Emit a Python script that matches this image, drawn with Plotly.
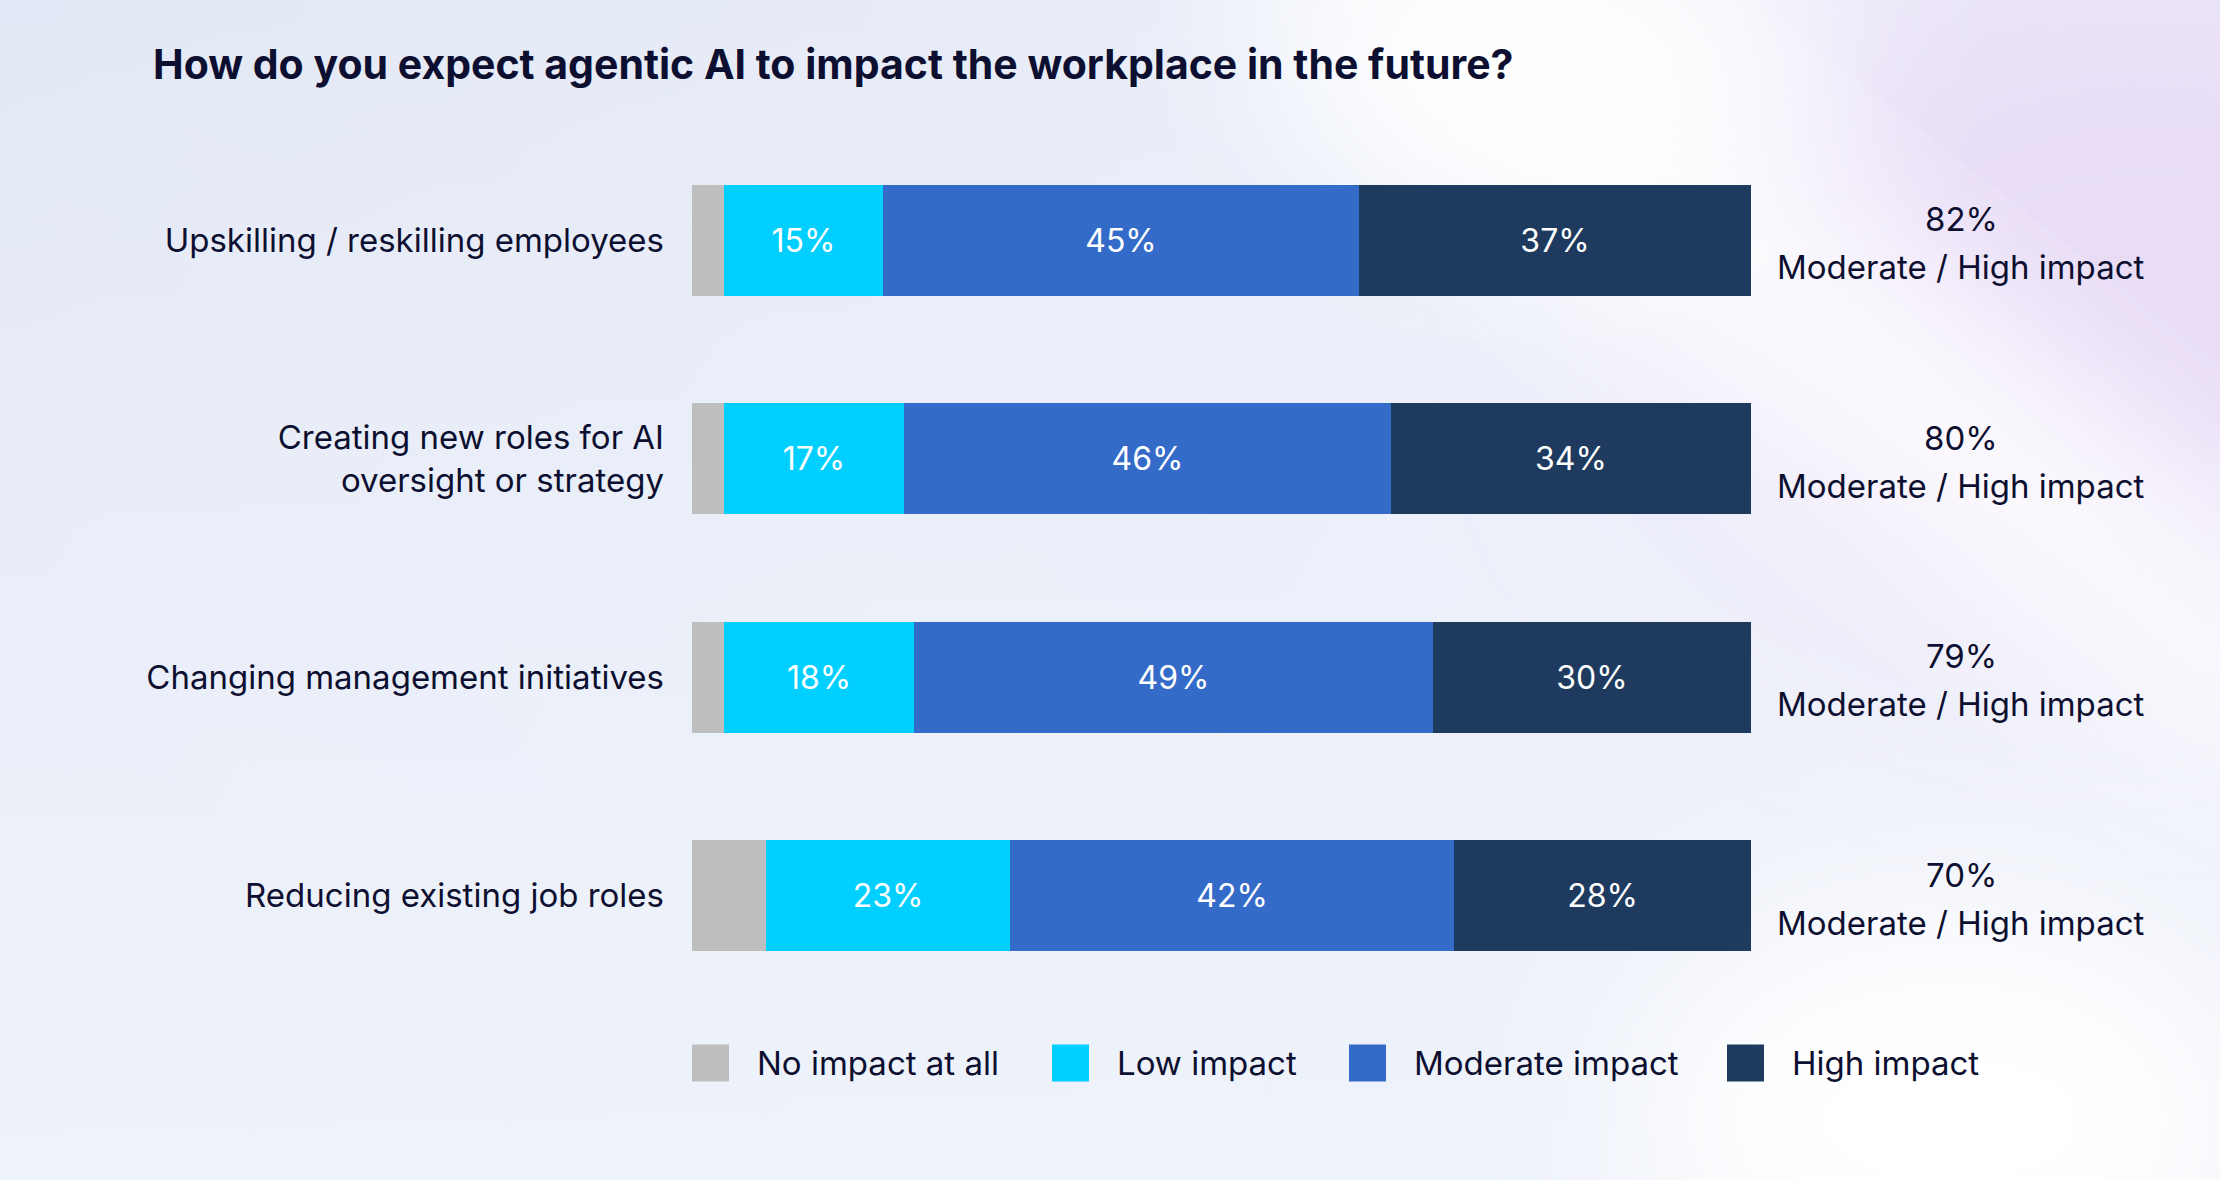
import base64
import plotly.graph_objects as go

# ---------------- data ----------------
categories = [
    "Upskilling / reskilling employees",
    "Creating new roles for AI<br>oversight or strategy",
    "Changing management initiatives",
    "Reducing existing job roles",
]
series_names = ["No impact at all", "Low impact", "Moderate impact", "High impact"]
no_impact = [3, 3, 3, 7]
low_impact = [15, 17, 18, 23]
moderate_impact = [45, 46, 49, 42]
high_impact = [37, 34, 30, 28]
totals_label = "Moderate / High impact"
title_text = "How do you expect agentic AI to impact the workplace in the future?"

# ---------------- style ----------------
W, H = 2220, 1180
colors = ["#BEBEBE", "#00CFFF", "#346BC9", "#1E3B5F"]
text_dark = "#0D0F30"
font_family = "Inter, 'Noto Sans', sans-serif"

x_dom = [692 / W, 1751 / W]
y_dom = [1 - 1005 / H, 1 - 131 / H]

svg = f"""<svg xmlns='http://www.w3.org/2000/svg' width='{W}' height='{H}' viewBox='0 0 {W} {H}'>
<defs>
<linearGradient id='base' x1='0' y1='0' x2='1' y2='0.3'>
<stop offset='0' stop-color='#E3E8F6'/>
<stop offset='0.55' stop-color='#E8EDF8'/>
<stop offset='1' stop-color='#F1EFFA'/>
</linearGradient>
<linearGradient id='bot' x1='0' y1='0' x2='0' y2='1'>
<stop offset='0' stop-color='#EEF2FA' stop-opacity='0'/>
<stop offset='1' stop-color='#EEF2FA' stop-opacity='1'/>
</linearGradient>
<filter id='b1' x='-50%' y='-50%' width='200%' height='200%'><feGaussianBlur stdDeviation='90'/></filter>
<filter id='b2' x='-50%' y='-50%' width='200%' height='200%'><feGaussianBlur stdDeviation='120'/></filter>
</defs>
<rect width='{W}' height='{H}' fill='url(#base)'/>
<rect width='{W}' height='{H}' fill='url(#bot)'/>
<ellipse cx='2150' cy='280' rx='450' ry='320' fill='#E8DCF7' filter='url(#b2)'/>
<ellipse cx='1820' cy='330' rx='760' ry='110' fill='#FFFFFF' transform='rotate(38 1820 330)' filter='url(#b1)'/>
<ellipse cx='1560' cy='60' rx='260' ry='140' fill='#FFFFFF' filter='url(#b1)'/>
<ellipse cx='1950' cy='1120' rx='320' ry='220' fill='#FFFFFF' filter='url(#b1)'/>
</svg>"""
bg_src = "data:image/svg+xml;base64," + base64.b64encode(svg.encode()).decode()

fig = go.Figure()
series_values = [no_impact, low_impact, moderate_impact, high_impact]
for i, (name, vals) in enumerate(zip(series_names, series_values)):
    show_text = i > 0
    fig.add_trace(go.Bar(
        name=name,
        y=categories,
        x=vals,
        orientation="h",
        width=0.508,
        marker=dict(color=colors[i], line=dict(width=0)),
        text=[f"{v}%" for v in vals] if show_text else None,
        textposition="inside" if show_text else "none",
        insidetextanchor="middle",
        textangle=0,
        textfont=dict(color="white", size=32, family=font_family),
        hoverinfo="skip",
        showlegend=False,
    ))

annotations = []
# totals on the right
for cat, m, h in zip(categories, moderate_impact, high_impact):
    annotations.append(dict(
        x=1961 / W, xref="paper", y=cat, yref="y",
        text=f"{m + h}%",
        showarrow=False, xanchor="center", yanchor="middle",
        font=dict(size=33, color=text_dark, family=font_family),
        yshift=21,
    ))
    annotations.append(dict(
        x=1961 / W, xref="paper", y=cat, yref="y",
        text=totals_label,
        showarrow=False, xanchor="center", yanchor="middle",
        font=dict(size=33, color=text_dark, family=font_family),
        yshift=-27,
    ))
# title
annotations.append(dict(
    x=151 / W, xref="paper", y=1 - 64 / H, yref="paper",
    text=f"<b>{title_text}</b>", showarrow=False,
    xanchor="left", yanchor="middle",
    font=dict(size=41, color=text_dark, family=font_family),
))

# custom legend with large squares
legend_x = [692, 1052, 1349, 1727]
legend_y = 1 - 1063 / H
sq = 37
shapes = []
for lx, name, col in zip(legend_x, series_names, colors):
    shapes.append(dict(
        type="rect", xref="paper", yref="paper",
        x0=lx / W, x1=(lx + sq) / W,
        y0=legend_y - (sq / 2) / H, y1=legend_y + (sq / 2) / H,
        fillcolor=col, line=dict(width=0), layer="above",
    ))
    annotations.append(dict(
        x=(lx + sq + 26) / W, xref="paper", y=legend_y, yref="paper",
        text=name, showarrow=False, xanchor="left", yanchor="middle",
        font=dict(size=33, color=text_dark, family=font_family),
    ))

fig.update_layout(
    width=W, height=H,
    margin=dict(l=0, r=0, t=0, b=0),
    barmode="stack",
    bargap=0,
    paper_bgcolor="#E8EDF8",
    plot_bgcolor="rgba(0,0,0,0)",
    showlegend=False,
    uniformtext=dict(minsize=32, mode="show"),
    images=[dict(source=bg_src, xref="paper", yref="paper", x=0, y=1,
                 sizex=1, sizey=1, sizing="stretch", layer="below", xanchor="left", yanchor="top")],
    xaxis=dict(domain=x_dom, range=[0, 100], visible=False, fixedrange=True),
    yaxis=dict(domain=y_dom, categoryorder="array", categoryarray=categories,
               range=[3.5, -0.5], showgrid=False, zeroline=False, showline=False,
               ticks="", ticklabelstandoff=27,
               tickfont=dict(size=33, color=text_dark, family=font_family)),
    annotations=annotations,
    shapes=shapes,
)

fig.write_html("out.html")
